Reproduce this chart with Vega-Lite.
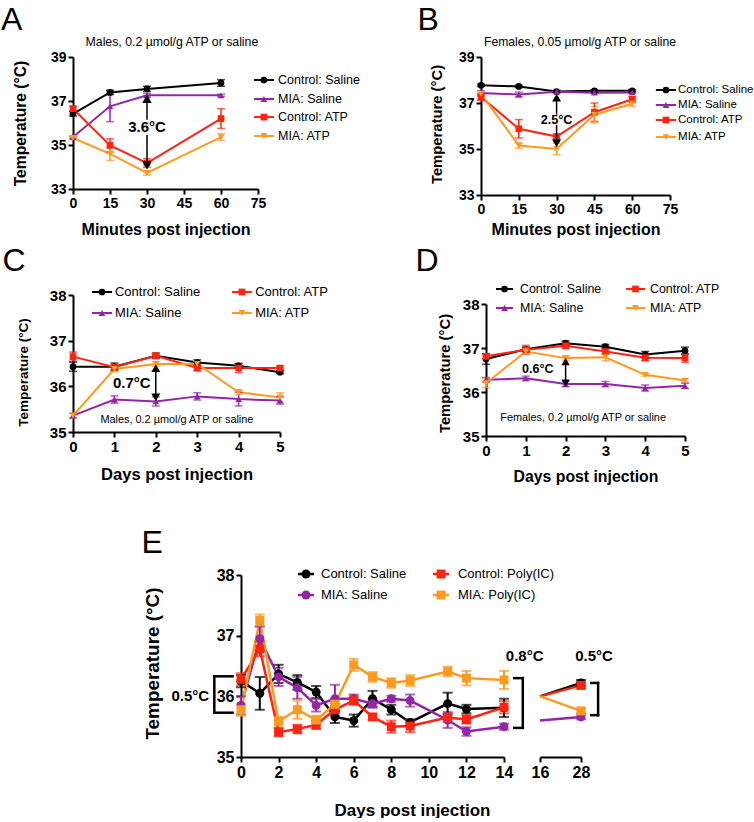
{
  "$schema": "https://vega.github.io/schema/vega-lite/v6.json",
  "padding": {"left": 0, "top": 4, "right": 0, "bottom": 0},
  "config": {
    "font": "Liberation Sans",
    "view": {"stroke": null},
    "axis": {"domainColor": "#000000", "domainWidth": 2, "tickColor": "#000000", "tickWidth": 2, "tickSize": 5, "labelColor": "#000000", "labelFontWeight": "bold", "labelFontSize": 14, "labelPadding": 2, "labelFlush": false, "labelOverlap": false, "titleColor": "#000000", "titleFontWeight": "bold", "titleFontSize": 16, "grid": false},
    "text": {"color": "#000000", "font": "Liberation Sans"}
  },
  "datasets": {
    "A": [
      {"s": "Control: Saline", "x": 0, "t": 36.42, "e": 0.1},
      {"s": "Control: Saline", "x": 15, "t": 37.39, "e": 0.1},
      {"s": "Control: Saline", "x": 30, "t": 37.55, "e": 0.12},
      {"s": "Control: Saline", "x": 60, "t": 37.82, "e": 0.15},
      {"s": "MIA: Saline", "x": 0, "t": 35.36, "e": 0.05},
      {"s": "MIA: Saline", "x": 15, "t": 36.76, "e": 0.7},
      {"s": "MIA: Saline", "x": 30, "t": 37.26, "e": 0.08},
      {"s": "MIA: Saline", "x": 60, "t": 37.26, "e": 0.05},
      {"s": "Control: ATP", "x": 0, "t": 36.65, "e": 0.1},
      {"s": "Control: ATP", "x": 15, "t": 34.98, "e": 0.3},
      {"s": "Control: ATP", "x": 30, "t": 34.18, "e": 0.2},
      {"s": "Control: ATP", "x": 60, "t": 36.2, "e": 0.45},
      {"s": "MIA: ATP", "x": 0, "t": 35.32, "e": 0.05},
      {"s": "MIA: ATP", "x": 15, "t": 34.6, "e": 0.3},
      {"s": "MIA: ATP", "x": 30, "t": 33.73, "e": 0.1},
      {"s": "MIA: ATP", "x": 60, "t": 35.36, "e": 0.15}
    ],
    "B": [
      {"s": "Control: Saline", "x": 0, "t": 37.77, "e": 0.05},
      {"s": "Control: Saline", "x": 15, "t": 37.72, "e": 0.05},
      {"s": "Control: Saline", "x": 30, "t": 37.5, "e": 0.05},
      {"s": "Control: Saline", "x": 45, "t": 37.53, "e": 0.05},
      {"s": "Control: Saline", "x": 60, "t": 37.53, "e": 0.05},
      {"s": "MIA: Saline", "x": 0, "t": 37.43, "e": 0.1},
      {"s": "MIA: Saline", "x": 15, "t": 37.37, "e": 0.1},
      {"s": "MIA: Saline", "x": 30, "t": 37.49, "e": 0.05},
      {"s": "MIA: Saline", "x": 45, "t": 37.45, "e": 0.05},
      {"s": "MIA: Saline", "x": 60, "t": 37.46, "e": 0.05},
      {"s": "Control: ATP", "x": 0, "t": 37.26, "e": 0.15},
      {"s": "Control: ATP", "x": 15, "t": 35.88, "e": 0.4},
      {"s": "Control: ATP", "x": 30, "t": 35.54, "e": 0.1},
      {"s": "Control: ATP", "x": 45, "t": 36.6, "e": 0.4},
      {"s": "Control: ATP", "x": 60, "t": 37.16, "e": 0.12},
      {"s": "MIA: ATP", "x": 0, "t": 37.4, "e": 0.1},
      {"s": "MIA: ATP", "x": 15, "t": 35.15, "e": 0.12},
      {"s": "MIA: ATP", "x": 30, "t": 35.0, "e": 0.25},
      {"s": "MIA: ATP", "x": 45, "t": 36.49, "e": 0.35},
      {"s": "MIA: ATP", "x": 60, "t": 36.97, "e": 0.12}
    ],
    "C": [
      {"s": "Control: Saline", "x": 0, "t": 36.43, "e": 0.1},
      {"s": "Control: Saline", "x": 1, "t": 36.43, "e": 0.08},
      {"s": "Control: Saline", "x": 2, "t": 36.67, "e": 0.05},
      {"s": "Control: Saline", "x": 3, "t": 36.52, "e": 0.06},
      {"s": "Control: Saline", "x": 4, "t": 36.45, "e": 0.05},
      {"s": "Control: Saline", "x": 5, "t": 36.31, "e": 0.03},
      {"s": "MIA: Saline", "x": 0, "t": 35.36, "e": 0.05},
      {"s": "MIA: Saline", "x": 1, "t": 35.71, "e": 0.08},
      {"s": "MIA: Saline", "x": 2, "t": 35.67, "e": 0.1},
      {"s": "MIA: Saline", "x": 3, "t": 35.78, "e": 0.08},
      {"s": "MIA: Saline", "x": 4, "t": 35.72, "e": 0.15},
      {"s": "MIA: Saline", "x": 5, "t": 35.69, "e": 0.08},
      {"s": "Control: ATP", "x": 0, "t": 36.65, "e": 0.1},
      {"s": "Control: ATP", "x": 1, "t": 36.42, "e": 0.05},
      {"s": "Control: ATP", "x": 2, "t": 36.67, "e": 0.06},
      {"s": "Control: ATP", "x": 3, "t": 36.4, "e": 0.06},
      {"s": "Control: ATP", "x": 4, "t": 36.4, "e": 0.1},
      {"s": "Control: ATP", "x": 5, "t": 36.4, "e": 0.05},
      {"s": "MIA: ATP", "x": 0, "t": 35.36, "e": 0.05},
      {"s": "MIA: ATP", "x": 1, "t": 36.38, "e": 0.06},
      {"s": "MIA: ATP", "x": 2, "t": 36.49, "e": 0.05},
      {"s": "MIA: ATP", "x": 3, "t": 36.49, "e": 0.06},
      {"s": "MIA: ATP", "x": 4, "t": 35.87, "e": 0.05},
      {"s": "MIA: ATP", "x": 5, "t": 35.76, "e": 0.1}
    ],
    "D": [
      {"s": "Control: Saline", "x": 0, "t": 36.75, "e": 0.12},
      {"s": "Control: Saline", "x": 1, "t": 36.97, "e": 0.05},
      {"s": "Control: Saline", "x": 2, "t": 37.11, "e": 0.05},
      {"s": "Control: Saline", "x": 3, "t": 37.03, "e": 0.05},
      {"s": "Control: Saline", "x": 4, "t": 36.85, "e": 0.07},
      {"s": "Control: Saline", "x": 5, "t": 36.94, "e": 0.08},
      {"s": "MIA: Saline", "x": 0, "t": 36.28, "e": 0.05},
      {"s": "MIA: Saline", "x": 1, "t": 36.31, "e": 0.05},
      {"s": "MIA: Saline", "x": 2, "t": 36.18, "e": 0.06},
      {"s": "MIA: Saline", "x": 3, "t": 36.18, "e": 0.06},
      {"s": "MIA: Saline", "x": 4, "t": 36.09, "e": 0.07},
      {"s": "MIA: Saline", "x": 5, "t": 36.14, "e": 0.06},
      {"s": "Control: ATP", "x": 0, "t": 36.81, "e": 0.05},
      {"s": "Control: ATP", "x": 1, "t": 36.96, "e": 0.1},
      {"s": "Control: ATP", "x": 2, "t": 37.05, "e": 0.06},
      {"s": "Control: ATP", "x": 3, "t": 36.92, "e": 0.06},
      {"s": "Control: ATP", "x": 4, "t": 36.78, "e": 0.07},
      {"s": "Control: ATP", "x": 5, "t": 36.77, "e": 0.1},
      {"s": "MIA: ATP", "x": 0, "t": 36.2, "e": 0.1},
      {"s": "MIA: ATP", "x": 1, "t": 36.92, "e": 0.05},
      {"s": "MIA: ATP", "x": 2, "t": 36.77, "e": 0.05},
      {"s": "MIA: ATP", "x": 3, "t": 36.79, "e": 0.08},
      {"s": "MIA: ATP", "x": 4, "t": 36.39, "e": 0.03},
      {"s": "MIA: ATP", "x": 5, "t": 36.26, "e": 0.03}
    ],
    "E1": [
      {"s": "Control: Saline", "x": 0, "t": 36.25, "e": 0.1},
      {"s": "Control: Saline", "x": 1, "t": 36.05, "e": 0.27},
      {"s": "Control: Saline", "x": 2, "t": 36.37, "e": 0.15},
      {"s": "Control: Saline", "x": 3, "t": 36.23, "e": 0.12},
      {"s": "Control: Saline", "x": 4, "t": 36.07, "e": 0.1},
      {"s": "Control: Saline", "x": 5, "t": 35.66, "e": 0.1},
      {"s": "Control: Saline", "x": 6, "t": 35.6, "e": 0.1},
      {"s": "Control: Saline", "x": 7, "t": 35.96, "e": 0.13},
      {"s": "Control: Saline", "x": 8, "t": 35.78, "e": 0.08},
      {"s": "Control: Saline", "x": 9, "t": 35.57, "e": 0.05},
      {"s": "Control: Saline", "x": 11, "t": 35.88, "e": 0.18},
      {"s": "Control: Saline", "x": 12, "t": 35.79, "e": 0.07},
      {"s": "Control: Saline", "x": 14, "t": 35.81, "e": 0.15},
      {"s": "MIA: Saline", "x": 0, "t": 35.85, "e": 0.15},
      {"s": "MIA: Saline", "x": 1, "t": 36.95, "e": 0.2},
      {"s": "MIA: Saline", "x": 2, "t": 36.32, "e": 0.15},
      {"s": "MIA: Saline", "x": 3, "t": 36.14, "e": 0.18},
      {"s": "MIA: Saline", "x": 4, "t": 35.85, "e": 0.1},
      {"s": "MIA: Saline", "x": 5, "t": 35.96, "e": 0.23},
      {"s": "MIA: Saline", "x": 6, "t": 35.96, "e": 0.07},
      {"s": "MIA: Saline", "x": 7, "t": 35.88, "e": 0.07},
      {"s": "MIA: Saline", "x": 8, "t": 35.96, "e": 0.05},
      {"s": "MIA: Saline", "x": 9, "t": 35.93, "e": 0.1},
      {"s": "MIA: Saline", "x": 11, "t": 35.61, "e": 0.13},
      {"s": "MIA: Saline", "x": 12, "t": 35.42, "e": 0.07},
      {"s": "MIA: Saline", "x": 14, "t": 35.5, "e": 0.05},
      {"s": "Control: Poly(IC)", "x": 0, "t": 36.28, "e": 0.1},
      {"s": "Control: Poly(IC)", "x": 1, "t": 36.78, "e": 0.12},
      {"s": "Control: Poly(IC)", "x": 2, "t": 35.41, "e": 0.07},
      {"s": "Control: Poly(IC)", "x": 3, "t": 35.46, "e": 0.07},
      {"s": "Control: Poly(IC)", "x": 4, "t": 35.53, "e": 0.07},
      {"s": "Control: Poly(IC)", "x": 5, "t": 35.78, "e": 0.1},
      {"s": "Control: Poly(IC)", "x": 6, "t": 35.93, "e": 0.07},
      {"s": "Control: Poly(IC)", "x": 7, "t": 35.66, "e": 0.05},
      {"s": "Control: Poly(IC)", "x": 8, "t": 35.5, "e": 0.1},
      {"s": "Control: Poly(IC)", "x": 9, "t": 35.51, "e": 0.1},
      {"s": "Control: Poly(IC)", "x": 11, "t": 35.65, "e": 0.07},
      {"s": "Control: Poly(IC)", "x": 12, "t": 35.62, "e": 0.07},
      {"s": "Control: Poly(IC)", "x": 14, "t": 35.82, "e": 0.1},
      {"s": "MIA: Poly(IC)", "x": 0, "t": 35.78, "e": 0.1},
      {"s": "MIA: Poly(IC)", "x": 1, "t": 37.25, "e": 0.1},
      {"s": "MIA: Poly(IC)", "x": 2, "t": 35.59, "e": 0.07},
      {"s": "MIA: Poly(IC)", "x": 3, "t": 35.78, "e": 0.15},
      {"s": "MIA: Poly(IC)", "x": 4, "t": 35.61, "e": 0.07},
      {"s": "MIA: Poly(IC)", "x": 5, "t": 35.87, "e": 0.1},
      {"s": "MIA: Poly(IC)", "x": 6, "t": 36.52, "e": 0.1},
      {"s": "MIA: Poly(IC)", "x": 7, "t": 36.32, "e": 0.08},
      {"s": "MIA: Poly(IC)", "x": 8, "t": 36.22, "e": 0.08},
      {"s": "MIA: Poly(IC)", "x": 9, "t": 36.26, "e": 0.09},
      {"s": "MIA: Poly(IC)", "x": 11, "t": 36.41, "e": 0.08},
      {"s": "MIA: Poly(IC)", "x": 12, "t": 36.3, "e": 0.12},
      {"s": "MIA: Poly(IC)", "x": 14, "t": 36.27, "e": 0.15}
    ],
    "E2": [
      {"s": "Control: Saline", "x": 16, "t": 36.0, "e": 0},
      {"s": "Control: Saline", "x": 28, "t": 36.22, "e": 0.05},
      {"s": "MIA: Saline", "x": 16, "t": 35.6, "e": 0},
      {"s": "MIA: Saline", "x": 28, "t": 35.66, "e": 0.04},
      {"s": "Control: Poly(IC)", "x": 16, "t": 36.0, "e": 0},
      {"s": "Control: Poly(IC)", "x": 28, "t": 36.18, "e": 0.05},
      {"s": "MIA: Poly(IC)", "x": 16, "t": 36.0, "e": 0},
      {"s": "MIA: Poly(IC)", "x": 28, "t": 35.76, "e": 0.04}
    ]
  },
  "resolve": {"scale": {"color": "independent", "shape": "independent"}},
  "spacing": 42,
  "vconcat": [
    {
      "spacing": 8,
      "resolve": {"scale": {"color": "independent", "shape": "independent"}},
      "vconcat": [
        {
          "hconcat": [
            {
              "width": 185, "height": 132,
              "data": {"values": [{}]},
              "layer": [
                {
                  "data": {"name": "A"},
                  "encoding": {
                    "x": {"field": "x", "type": "quantitative", "scale": {"domain": [0, 75], "nice": false}, "axis": {"values": [0, 15, 30, 45, 60, 75], "tickCount": 20, "format": "d", "labelOverlap": false, "title": "Minutes post injection", "titleX": 92.5, "titleY": 32, "titleFontSize": 16, "labelFontSize": 14}},
                    "y": {"field": "t", "type": "quantitative", "scale": {"domain": [33, 39], "nice": false, "zero": false}, "axis": {"values": [33, 35, 37, 39], "tickCount": 20, "format": "d", "labelOverlap": false, "title": "Temperature (°C)", "titleX": -45, "titleY": 66, "titleFontSize": 15.6, "labelFontSize": 14}},
                    "color": {"field": "s", "type": "nominal", "scale": {"domain": ["Control: Saline", "MIA: Saline", "Control: ATP", "MIA: ATP"], "range": ["#000000", "#9226a6", "#ff2412", "#ff9a20"]}, "legend": null}
                  },
                  "layer": [
                    {"mark": {"type": "line", "strokeWidth": 2}},
                    {"mark": {"type": "errorbar", "thickness": 1.5, "ticks": {"size": 8, "thickness": 1.5}}, "encoding": {"yError": {"field": "e"}}},
                    {"mark": {"type": "point", "filled": true, "size": 45, "opacity": 1}, "encoding": {"shape": {"field": "s", "type": "nominal", "scale": {"domain": ["Control: Saline", "MIA: Saline", "Control: ATP", "MIA: ATP"], "range": ["circle", "triangle-up", "square", "triangle-down"]}, "legend": null}}}
                  ]
                },
                {"mark": {"type": "rule", "color": "#000000", "strokeWidth": 2}, "encoding": {"x": {"datum": 73.4}, "x2": {"datum": 81.5}, "y": {"datum": 37.955}}},
                {"mark": {"type": "point", "shape": "circle", "filled": true, "color": "#000000", "size": 45, "opacity": 1}, "encoding": {"x": {"datum": 77.4}, "y": {"datum": 37.955}}},
                {"mark": {"type": "text", "text": "Control: Saline", "fontSize": 12.5, "align": "left", "baseline": "middle"}, "encoding": {"x": {"datum": 83.1}, "y": {"datum": 37.955}}},
                {"mark": {"type": "rule", "color": "#9226a6", "strokeWidth": 2}, "encoding": {"x": {"datum": 73.4}, "x2": {"datum": 81.5}, "y": {"datum": 37.09}}},
                {"mark": {"type": "point", "shape": "triangle-up", "filled": true, "color": "#9226a6", "size": 45, "opacity": 1}, "encoding": {"x": {"datum": 77.4}, "y": {"datum": 37.09}}},
                {"mark": {"type": "text", "text": "MIA: Saline", "fontSize": 12.5, "align": "left", "baseline": "middle"}, "encoding": {"x": {"datum": 83.1}, "y": {"datum": 37.09}}},
                {"mark": {"type": "rule", "color": "#ff2412", "strokeWidth": 2}, "encoding": {"x": {"datum": 73.4}, "x2": {"datum": 81.5}, "y": {"datum": 36.27}}},
                {"mark": {"type": "point", "shape": "square", "filled": true, "color": "#ff2412", "size": 45, "opacity": 1}, "encoding": {"x": {"datum": 77.4}, "y": {"datum": 36.27}}},
                {"mark": {"type": "text", "text": "Control: ATP", "fontSize": 12.5, "align": "left", "baseline": "middle"}, "encoding": {"x": {"datum": 83.1}, "y": {"datum": 36.27}}},
                {"mark": {"type": "rule", "color": "#ff9a20", "strokeWidth": 2}, "encoding": {"x": {"datum": 73.4}, "x2": {"datum": 81.5}, "y": {"datum": 35.41}}},
                {"mark": {"type": "point", "shape": "triangle-down", "filled": true, "color": "#ff9a20", "size": 45, "opacity": 1}, "encoding": {"x": {"datum": 77.4}, "y": {"datum": 35.41}}},
                {"mark": {"type": "text", "text": "MIA: ATP", "fontSize": 12.5, "align": "left", "baseline": "middle"}, "encoding": {"x": {"datum": 83.1}, "y": {"datum": 35.41}}},
                {"mark": {"type": "rule", "color": "#000000", "strokeWidth": 1.5}, "encoding": {"x": {"datum": 30}, "y": {"datum": 37.1}, "y2": {"datum": 36.15}}},
                {"mark": {"type": "rule", "color": "#000000", "strokeWidth": 1.5}, "encoding": {"x": {"datum": 30}, "y": {"datum": 35.45}, "y2": {"datum": 34.15}}},
                {"mark": {"type": "point", "shape": "triangle-up", "filled": true, "color": "#000000", "size": 90, "opacity": 1}, "encoding": {"x": {"datum": 30}, "y": {"datum": 37.1}}},
                {"mark": {"type": "point", "shape": "triangle-down", "filled": true, "color": "#000000", "size": 90, "opacity": 1}, "encoding": {"x": {"datum": 30}, "y": {"datum": 34.07}}},
                {"mark": {"type": "text", "text": "3.6°C", "fontSize": 15, "fontWeight": "bold", "align": "center", "baseline": "middle"}, "encoding": {"x": {"datum": 30}, "y": {"datum": 35.8}}},
                {"mark": {"type": "text", "text": "Males, 0.2 µmol/g ATP or saline", "fontSize": 12.3, "align": "center", "baseline": "middle"}, "encoding": {"x": {"datum": 40.1}, "y": {"datum": 39.67}}},
                {"mark": {"type": "text", "text": "A", "fontSize": 32, "align": "left", "baseline": "alphabetic"}, "encoding": {"x": {"datum": -29.19}, "y": {"datum": 40.227}}}
              ]
            },
            {
              "width": 189, "height": 138,
              "data": {"values": [{}]},
              "layer": [
                {
                  "data": {"name": "B"},
                  "encoding": {
                    "x": {"field": "x", "type": "quantitative", "scale": {"domain": [0, 75], "nice": false}, "axis": {"values": [0, 15, 30, 45, 60, 75], "tickCount": 20, "format": "d", "labelOverlap": false, "title": "Minutes post injection", "titleX": 94.5, "titleY": 26, "titleFontSize": 16, "labelFontSize": 14}},
                    "y": {"field": "t", "type": "quantitative", "scale": {"domain": [33, 39], "nice": false, "zero": false}, "axis": {"values": [33, 35, 37, 39], "tickCount": 20, "format": "d", "labelOverlap": false, "title": "Temperature (°C)", "titleX": -37, "titleY": 67, "titleFontSize": 14.8, "labelFontSize": 14}},
                    "color": {"field": "s", "type": "nominal", "scale": {"domain": ["Control: Saline", "MIA: Saline", "Control: ATP", "MIA: ATP"], "range": ["#000000", "#9226a6", "#ff2412", "#ff9a20"]}, "legend": null}
                  },
                  "layer": [
                    {"mark": {"type": "line", "strokeWidth": 2}},
                    {"mark": {"type": "errorbar", "thickness": 1.5, "ticks": {"size": 8, "thickness": 1.5}}, "encoding": {"yError": {"field": "e"}}},
                    {"mark": {"type": "point", "filled": true, "size": 45, "opacity": 1}, "encoding": {"shape": {"field": "s", "type": "nominal", "scale": {"domain": ["Control: Saline", "MIA: Saline", "Control: ATP", "MIA: ATP"], "range": ["circle", "triangle-up", "square", "triangle-down"]}, "legend": null}}}
                  ]
                },
                {"mark": {"type": "rule", "color": "#000000", "strokeWidth": 2}, "encoding": {"x": {"datum": 69.4}, "x2": {"datum": 77.4}, "y": {"datum": 37.565}}},
                {"mark": {"type": "point", "shape": "circle", "filled": true, "color": "#000000", "size": 45, "opacity": 1}, "encoding": {"x": {"datum": 73.4}, "y": {"datum": 37.565}}},
                {"mark": {"type": "text", "text": "Control: Saline", "fontSize": 11.5, "align": "left", "baseline": "middle"}, "encoding": {"x": {"datum": 78.2}, "y": {"datum": 37.565}}},
                {"mark": {"type": "rule", "color": "#9226a6", "strokeWidth": 2}, "encoding": {"x": {"datum": 69.4}, "x2": {"datum": 77.4}, "y": {"datum": 36.913}}},
                {"mark": {"type": "point", "shape": "triangle-up", "filled": true, "color": "#9226a6", "size": 45, "opacity": 1}, "encoding": {"x": {"datum": 73.4}, "y": {"datum": 36.913}}},
                {"mark": {"type": "text", "text": "MIA: Saline", "fontSize": 11.5, "align": "left", "baseline": "middle"}, "encoding": {"x": {"datum": 78.2}, "y": {"datum": 36.913}}},
                {"mark": {"type": "rule", "color": "#ff2412", "strokeWidth": 2}, "encoding": {"x": {"datum": 69.4}, "x2": {"datum": 77.4}, "y": {"datum": 36.26}}},
                {"mark": {"type": "point", "shape": "square", "filled": true, "color": "#ff2412", "size": 45, "opacity": 1}, "encoding": {"x": {"datum": 73.4}, "y": {"datum": 36.26}}},
                {"mark": {"type": "text", "text": "Control: ATP", "fontSize": 11.5, "align": "left", "baseline": "middle"}, "encoding": {"x": {"datum": 78.2}, "y": {"datum": 36.26}}},
                {"mark": {"type": "rule", "color": "#ff9a20", "strokeWidth": 2}, "encoding": {"x": {"datum": 69.4}, "x2": {"datum": 77.4}, "y": {"datum": 35.52}}},
                {"mark": {"type": "point", "shape": "triangle-down", "filled": true, "color": "#ff9a20", "size": 45, "opacity": 1}, "encoding": {"x": {"datum": 73.4}, "y": {"datum": 35.52}}},
                {"mark": {"type": "text", "text": "MIA: ATP", "fontSize": 11.5, "align": "left", "baseline": "middle"}, "encoding": {"x": {"datum": 78.2}, "y": {"datum": 35.52}}},
                {"mark": {"type": "rule", "color": "#000000", "strokeWidth": 1.5}, "encoding": {"x": {"datum": 30}, "y": {"datum": 37.1}, "y2": {"datum": 36.5}}},
                {"mark": {"type": "rule", "color": "#000000", "strokeWidth": 1.5}, "encoding": {"x": {"datum": 30}, "y": {"datum": 36.05}, "y2": {"datum": 35.4}}},
                {"mark": {"type": "point", "shape": "triangle-up", "filled": true, "color": "#000000", "size": 80, "opacity": 1}, "encoding": {"x": {"datum": 30}, "y": {"datum": 37.23}}},
                {"mark": {"type": "point", "shape": "triangle-down", "filled": true, "color": "#000000", "size": 80, "opacity": 1}, "encoding": {"x": {"datum": 30}, "y": {"datum": 35.25}}},
                {"mark": {"type": "text", "text": "2.5°C", "fontSize": 12.7, "fontWeight": "bold", "align": "center", "baseline": "middle"}, "encoding": {"x": {"datum": 30}, "y": {"datum": 36.28}}},
                {"mark": {"type": "text", "text": "Females, 0.05 µmol/g ATP or saline", "fontSize": 12.2, "align": "center", "baseline": "middle"}, "encoding": {"x": {"datum": 39.3}, "y": {"datum": 39.64}}},
                {"mark": {"type": "text", "text": "B", "fontSize": 32, "align": "left", "baseline": "alphabetic"}, "encoding": {"x": {"datum": -25.2}, "y": {"datum": 40.17}}}
              ]
            }
          ],
          "spacing": 223,
          "bounds": "flush",
          "resolve": {"scale": {"color": "independent", "shape": "independent"}}
        },
        {
          "hconcat": [
            {
              "width": 207, "height": 137,
              "data": {"values": [{}]},
              "layer": [
                {
                  "data": {"name": "C"},
                  "encoding": {
                    "x": {"field": "x", "type": "quantitative", "scale": {"domain": [0, 5], "nice": false}, "axis": {"values": [0, 1, 2, 3, 4, 5], "tickCount": 20, "format": "d", "labelOverlap": false, "title": "Days post injection", "titleX": 103.5, "titleY": 34, "titleFontSize": 16.6, "labelFontSize": 15}},
                    "y": {"field": "t", "type": "quantitative", "scale": {"domain": [35, 38], "nice": false, "zero": false}, "axis": {"values": [35, 36, 37, 38], "tickCount": 20, "format": "d", "labelOverlap": false, "title": "Temperature (°C)", "titleX": -43, "titleY": 77, "titleFontSize": 13.5, "labelFontSize": 15}},
                    "color": {"field": "s", "type": "nominal", "scale": {"domain": ["Control: Saline", "Control: ATP", "MIA: Saline", "MIA: ATP"], "range": ["#000000", "#ff2412", "#9226a6", "#ff9a20"]}, "legend": null}
                  },
                  "layer": [
                    {"mark": {"type": "line", "strokeWidth": 2}},
                    {"mark": {"type": "errorbar", "thickness": 1.5, "ticks": {"size": 8, "thickness": 1.5}}, "encoding": {"yError": {"field": "e"}}},
                    {"mark": {"type": "point", "filled": true, "size": 45, "opacity": 1}, "encoding": {"shape": {"field": "s", "type": "nominal", "scale": {"domain": ["Control: Saline", "Control: ATP", "MIA: Saline", "MIA: ATP"], "range": ["circle", "square", "triangle-up", "triangle-down"]}, "legend": null}}}
                  ]
                },
                {"mark": {"type": "rule", "color": "#000000", "strokeWidth": 2}, "encoding": {"x": {"datum": 0.459}, "x2": {"datum": 0.942}, "y": {"datum": 38.066}}},
                {"mark": {"type": "point", "shape": "circle", "filled": true, "color": "#000000", "size": 45, "opacity": 1}, "encoding": {"x": {"datum": 0.70}, "y": {"datum": 38.066}}},
                {"mark": {"type": "text", "text": "Control: Saline", "fontSize": 13, "align": "left", "baseline": "middle"}, "encoding": {"x": {"datum": 1.014}, "y": {"datum": 38.066}}},
                {"mark": {"type": "rule", "color": "#ff2412", "strokeWidth": 2}, "encoding": {"x": {"datum": 3.84}, "x2": {"datum": 4.32}, "y": {"datum": 38.066}}},
                {"mark": {"type": "point", "shape": "square", "filled": true, "color": "#ff2412", "size": 45, "opacity": 1}, "encoding": {"x": {"datum": 4.08}, "y": {"datum": 38.066}}},
                {"mark": {"type": "text", "text": "Control: ATP", "fontSize": 13, "align": "left", "baseline": "middle"}, "encoding": {"x": {"datum": 4.40}, "y": {"datum": 38.066}}},
                {"mark": {"type": "rule", "color": "#9226a6", "strokeWidth": 2}, "encoding": {"x": {"datum": 0.459}, "x2": {"datum": 0.942}, "y": {"datum": 37.606}}},
                {"mark": {"type": "point", "shape": "triangle-up", "filled": true, "color": "#9226a6", "size": 45, "opacity": 1}, "encoding": {"x": {"datum": 0.70}, "y": {"datum": 37.606}}},
                {"mark": {"type": "text", "text": "MIA: Saline", "fontSize": 13, "align": "left", "baseline": "middle"}, "encoding": {"x": {"datum": 1.014}, "y": {"datum": 37.606}}},
                {"mark": {"type": "rule", "color": "#ff9a20", "strokeWidth": 2}, "encoding": {"x": {"datum": 3.84}, "x2": {"datum": 4.32}, "y": {"datum": 37.606}}},
                {"mark": {"type": "point", "shape": "triangle-down", "filled": true, "color": "#ff9a20", "size": 45, "opacity": 1}, "encoding": {"x": {"datum": 4.08}, "y": {"datum": 37.606}}},
                {"mark": {"type": "text", "text": "MIA: ATP", "fontSize": 13, "align": "left", "baseline": "middle"}, "encoding": {"x": {"datum": 4.40}, "y": {"datum": 37.606}}},
                {"mark": {"type": "rule", "color": "#000000", "strokeWidth": 1.5}, "encoding": {"x": {"datum": 2}, "y": {"datum": 36.4}, "y2": {"datum": 35.76}}},
                {"mark": {"type": "point", "shape": "triangle-up", "filled": true, "color": "#000000", "size": 80, "opacity": 1}, "encoding": {"x": {"datum": 2}, "y": {"datum": 36.4}}},
                {"mark": {"type": "point", "shape": "triangle-down", "filled": true, "color": "#000000", "size": 80, "opacity": 1}, "encoding": {"x": {"datum": 2}, "y": {"datum": 35.76}}},
                {"mark": {"type": "text", "text": "0.7°C", "fontSize": 15, "fontWeight": "bold", "align": "center", "baseline": "middle"}, "encoding": {"x": {"datum": 1.42}, "y": {"datum": 36.07}}},
                {"mark": {"type": "text", "text": "Males, 0.2 µmol/g ATP or saline", "fontSize": 10.9, "align": "center", "baseline": "middle"}, "encoding": {"x": {"datum": 2.51}, "y": {"datum": 35.26}}},
                {"mark": {"type": "text", "text": "C", "fontSize": 32, "align": "left", "baseline": "alphabetic"}, "encoding": {"x": {"datum": -1.7}, "y": {"datum": 38.525}}}
              ]
            },
            {
              "vconcat": [
                {"width": 1, "height": 1, "data": {"values": [{}]}, "mark": {"type": "rule", "color": "#ffffff", "strokeWidth": 1}, "encoding": {"x": {"datum": 0, "type": "quantitative", "scale": {"domain": [0, 1]}, "axis": null}}},
                {
                  "width": 199, "height": 132,
                  "data": {"values": [{}]},
                  "layer": [
                    {
                      "data": {"name": "D"},
                      "encoding": {
                        "x": {"field": "x", "type": "quantitative", "scale": {"domain": [0, 5], "nice": false}, "axis": {"values": [0, 1, 2, 3, 4, 5], "tickCount": 20, "format": "d", "labelOverlap": false, "title": "Days post injection", "titleX": 99.5, "titleY": 33, "titleFontSize": 15.8, "labelFontSize": 15}},
                        "y": {"field": "t", "type": "quantitative", "scale": {"domain": [35, 38], "nice": false, "zero": false}, "axis": {"values": [35, 36, 37, 38], "tickCount": 20, "format": "d", "labelOverlap": false, "title": "Temperature (°C)", "titleX": -34, "titleY": 69, "titleFontSize": 14.8, "labelFontSize": 15}},
                        "color": {"field": "s", "type": "nominal", "scale": {"domain": ["Control: Saline", "Control: ATP", "MIA: Saline", "MIA: ATP"], "range": ["#000000", "#ff2412", "#9226a6", "#ff9a20"]}, "legend": null}
                      },
                      "layer": [
                        {"mark": {"type": "line", "strokeWidth": 2}},
                        {"mark": {"type": "errorbar", "thickness": 1.5, "ticks": {"size": 8, "thickness": 1.5}}, "encoding": {"yError": {"field": "e"}}},
                        {"mark": {"type": "point", "filled": true, "size": 45, "opacity": 1}, "encoding": {"shape": {"field": "s", "type": "nominal", "scale": {"domain": ["Control: Saline", "Control: ATP", "MIA: Saline", "MIA: ATP"], "range": ["circle", "square", "triangle-up", "triangle-down"]}, "legend": null}}}
                      ]
                    },
                    {"mark": {"type": "rule", "color": "#000000", "strokeWidth": 2}, "encoding": {"x": {"datum": 0.251}, "x2": {"datum": 0.678}, "y": {"datum": 38.341}}},
                    {"mark": {"type": "point", "shape": "circle", "filled": true, "color": "#000000", "size": 45, "opacity": 1}, "encoding": {"x": {"datum": 0.465}, "y": {"datum": 38.341}}},
                    {"mark": {"type": "text", "text": "Control: Saline", "fontSize": 12.4, "align": "left", "baseline": "middle"}, "encoding": {"x": {"datum": 0.854}, "y": {"datum": 38.341}}},
                    {"mark": {"type": "rule", "color": "#ff2412", "strokeWidth": 2}, "encoding": {"x": {"datum": 3.518}, "x2": {"datum": 3.995}, "y": {"datum": 38.341}}},
                    {"mark": {"type": "point", "shape": "square", "filled": true, "color": "#ff2412", "size": 45, "opacity": 1}, "encoding": {"x": {"datum": 3.756}, "y": {"datum": 38.341}}},
                    {"mark": {"type": "text", "text": "Control: ATP", "fontSize": 12.4, "align": "left", "baseline": "middle"}, "encoding": {"x": {"datum": 4.12}, "y": {"datum": 38.341}}},
                    {"mark": {"type": "rule", "color": "#9226a6", "strokeWidth": 2}, "encoding": {"x": {"datum": 0.251}, "x2": {"datum": 0.678}, "y": {"datum": 37.909}}},
                    {"mark": {"type": "point", "shape": "triangle-up", "filled": true, "color": "#9226a6", "size": 45, "opacity": 1}, "encoding": {"x": {"datum": 0.465}, "y": {"datum": 37.909}}},
                    {"mark": {"type": "text", "text": "MIA: Saline", "fontSize": 12.4, "align": "left", "baseline": "middle"}, "encoding": {"x": {"datum": 0.854}, "y": {"datum": 37.909}}},
                    {"mark": {"type": "rule", "color": "#ff9a20", "strokeWidth": 2}, "encoding": {"x": {"datum": 3.518}, "x2": {"datum": 3.995}, "y": {"datum": 37.909}}},
                    {"mark": {"type": "point", "shape": "triangle-down", "filled": true, "color": "#ff9a20", "size": 45, "opacity": 1}, "encoding": {"x": {"datum": 3.756}, "y": {"datum": 37.909}}},
                    {"mark": {"type": "text", "text": "MIA: ATP", "fontSize": 12.4, "align": "left", "baseline": "middle"}, "encoding": {"x": {"datum": 4.12}, "y": {"datum": 37.909}}},
                    {"mark": {"type": "rule", "color": "#000000", "strokeWidth": 1.5}, "encoding": {"x": {"datum": 2}, "y": {"datum": 36.69}, "y2": {"datum": 36.2}}},
                    {"mark": {"type": "point", "shape": "triangle-up", "filled": true, "color": "#000000", "size": 70, "opacity": 1}, "encoding": {"x": {"datum": 2}, "y": {"datum": 36.69}}},
                    {"mark": {"type": "point", "shape": "triangle-down", "filled": true, "color": "#000000", "size": 70, "opacity": 1}, "encoding": {"x": {"datum": 2}, "y": {"datum": 36.2}}},
                    {"mark": {"type": "text", "text": "0.6°C", "fontSize": 12.5, "fontWeight": "bold", "align": "center", "baseline": "middle"}, "encoding": {"x": {"datum": 1.3}, "y": {"datum": 36.53}}},
                    {"mark": {"type": "text", "text": "Females, 0.2 µmol/g ATP or saline", "fontSize": 10.9, "align": "center", "baseline": "middle"}, "encoding": {"x": {"datum": 2.44}, "y": {"datum": 35.4}}},
                    {"mark": {"type": "text", "text": "D", "fontSize": 32, "align": "left", "baseline": "alphabetic"}, "encoding": {"x": {"datum": -1.77}, "y": {"datum": 38.75}}}
                  ]
                }
              ],
              "spacing": 8,
              "bounds": "flush",
              "resolve": {"scale": {"color": "independent", "shape": "independent"}}
            }
          ],
          "spacing": 206,
          "bounds": "flush",
          "resolve": {"scale": {"color": "independent", "shape": "independent"}}
        }
      ]
    },
    {
      "hconcat": [
        {"width": 132, "height": 1, "data": {"values": [{}]}, "mark": {"type": "rule", "color": "#ffffff", "strokeWidth": 1}, "encoding": {"x": {"datum": 0, "type": "quantitative", "scale": {"domain": [0, 1]}, "axis": null}}},
        {
          "width": 263, "height": 182,
          "data": {"values": [{}]},
          "layer": [
            {
              "data": {"name": "E1"},
              "encoding": {
                "x": {"field": "x", "type": "quantitative", "scale": {"domain": [0, 14], "nice": false}, "axis": {"values": [0, 2, 4, 6, 8, 10, 12, 14], "tickCount": 20, "format": "d", "labelOverlap": false, "title": "Days post injection", "titleX": 171, "titleY": 45, "titleFontSize": 17, "labelFontSize": 16}},
                "y": {"field": "t", "type": "quantitative", "scale": {"domain": [35, 38], "nice": false, "zero": false}, "axis": {"values": [35, 36, 37, 38], "tickCount": 20, "format": "d", "labelOverlap": false, "title": "Temperature (°C)", "titleX": -79, "titleY": 88, "titleFontSize": 18.9, "labelFontSize": 16}},
                "color": {"field": "s", "type": "nominal", "scale": {"domain": ["Control: Saline", "Control: Poly(IC)", "MIA: Saline", "MIA: Poly(IC)"], "range": ["#000000", "#ff2412", "#9226a6", "#ff9a20"]}, "legend": null}
              },
              "layer": [
                {"mark": {"type": "line", "strokeWidth": 2.5}},
                {"mark": {"type": "errorbar", "thickness": 2, "ticks": {"size": 10, "thickness": 2}}, "encoding": {"yError": {"field": "e"}}},
                {"mark": {"type": "point", "filled": true, "size": 80, "opacity": 1}, "encoding": {"shape": {"field": "s", "type": "nominal", "scale": {"domain": ["Control: Saline", "Control: Poly(IC)", "MIA: Saline", "MIA: Poly(IC)"], "range": ["circle", "square", "circle", "square"]}, "legend": null}}}
              ]
            },
            {"mark": {"type": "rule", "color": "#000000", "strokeWidth": 2.5}, "encoding": {"x": {"datum": 3.034}, "x2": {"datum": 3.886}, "y": {"datum": 38.016}}},
            {"mark": {"type": "point", "shape": "circle", "filled": true, "color": "#000000", "size": 80, "opacity": 1}, "encoding": {"x": {"datum": 3.46}, "y": {"datum": 38.016}}},
            {"mark": {"type": "text", "text": "Control: Saline", "fontSize": 13, "align": "left", "baseline": "middle"}, "encoding": {"x": {"datum": 4.258}, "y": {"datum": 38.016}}},
            {"mark": {"type": "rule", "color": "#ff2412", "strokeWidth": 2.5}, "encoding": {"x": {"datum": 10.22}, "x2": {"datum": 11.07}, "y": {"datum": 38.016}}},
            {"mark": {"type": "point", "shape": "square", "filled": true, "color": "#ff2412", "size": 80, "opacity": 1}, "encoding": {"x": {"datum": 10.65}, "y": {"datum": 38.016}}},
            {"mark": {"type": "text", "text": "Control: Poly(IC)", "fontSize": 13, "align": "left", "baseline": "middle"}, "encoding": {"x": {"datum": 11.55}, "y": {"datum": 38.016}}},
            {"mark": {"type": "rule", "color": "#9226a6", "strokeWidth": 2.5}, "encoding": {"x": {"datum": 3.034}, "x2": {"datum": 3.886}, "y": {"datum": 37.67}}},
            {"mark": {"type": "point", "shape": "circle", "filled": true, "color": "#9226a6", "size": 80, "opacity": 1}, "encoding": {"x": {"datum": 3.46}, "y": {"datum": 37.67}}},
            {"mark": {"type": "text", "text": "MIA: Saline", "fontSize": 13, "align": "left", "baseline": "middle"}, "encoding": {"x": {"datum": 4.258}, "y": {"datum": 37.67}}},
            {"mark": {"type": "rule", "color": "#ff9a20", "strokeWidth": 2.5}, "encoding": {"x": {"datum": 10.22}, "x2": {"datum": 11.07}, "y": {"datum": 37.67}}},
            {"mark": {"type": "point", "shape": "square", "filled": true, "color": "#ff9a20", "size": 80, "opacity": 1}, "encoding": {"x": {"datum": 10.65}, "y": {"datum": 37.67}}},
            {"mark": {"type": "text", "text": "MIA: Poly(IC)", "fontSize": 13, "align": "left", "baseline": "middle"}, "encoding": {"x": {"datum": 11.55}, "y": {"datum": 37.67}}},
            {"mark": {"type": "rule", "color": "#000000", "strokeWidth": 2.5, "strokeCap": "square"}, "encoding": {"x": {"datum": 15.0}, "y": {"datum": 35.48}, "y2": {"datum": 36.3}}},
            {"mark": {"type": "rule", "color": "#000000", "strokeWidth": 2.5, "strokeCap": "square"}, "encoding": {"x": {"datum": 14.55}, "x2": {"datum": 15.0}, "y": {"datum": 36.3}}},
            {"mark": {"type": "rule", "color": "#000000", "strokeWidth": 2.5, "strokeCap": "square"}, "encoding": {"x": {"datum": 14.55}, "x2": {"datum": 15.0}, "y": {"datum": 35.48}}},
            {"mark": {"type": "text", "text": "0.8°C", "fontSize": 15, "fontWeight": "bold", "align": "center", "baseline": "middle"}, "encoding": {"x": {"datum": 15.1}, "y": {"datum": 36.66}}},
            {"mark": {"type": "rule", "color": "#000000", "strokeWidth": 2.5, "strokeCap": "square"}, "encoding": {"x": {"datum": -1.42}, "y": {"datum": 35.73}, "y2": {"datum": 36.33}}},
            {"mark": {"type": "rule", "color": "#000000", "strokeWidth": 2.5, "strokeCap": "square"}, "encoding": {"x": {"datum": -1.42}, "x2": {"datum": -0.45}, "y": {"datum": 36.33}}},
            {"mark": {"type": "rule", "color": "#000000", "strokeWidth": 2.5, "strokeCap": "square"}, "encoding": {"x": {"datum": -1.42}, "x2": {"datum": -0.45}, "y": {"datum": 35.73}}},
            {"mark": {"type": "text", "text": "0.5°C", "fontSize": 15, "fontWeight": "bold", "align": "right", "baseline": "middle"}, "encoding": {"x": {"datum": -1.7}, "y": {"datum": 36.0}}},
            {"mark": {"type": "text", "text": "E", "fontSize": 32, "align": "left", "baseline": "alphabetic"}, "encoding": {"x": {"datum": -5.3}, "y": {"datum": 38.363}}}
          ]
        },
        {
          "width": 41, "height": 182,
          "data": {"values": [{}]},
          "layer": [
            {
              "data": {"name": "E2"},
              "encoding": {
                "x": {"field": "x", "type": "quantitative", "scale": {"domain": [16, 28], "nice": false}, "axis": {"values": [16, 28], "tickCount": 20, "format": "d", "labelOverlap": false, "title": null, "labelFontSize": 16}},
                "y": {"field": "t", "type": "quantitative", "scale": {"domain": [35, 38], "nice": false, "zero": false}, "axis": null},
                "color": {"field": "s", "type": "nominal", "scale": {"domain": ["Control: Saline", "Control: Poly(IC)", "MIA: Saline", "MIA: Poly(IC)"], "range": ["#000000", "#ff2412", "#9226a6", "#ff9a20"]}, "legend": null}
              },
              "layer": [
                {"mark": {"type": "line", "strokeWidth": 2.5}},
                {"transform": [{"filter": {"field": "x", "equal": 28}}], "mark": {"type": "errorbar", "thickness": 2, "ticks": {"size": 10, "thickness": 2}}, "encoding": {"yError": {"field": "e"}}},
                {"transform": [{"filter": {"field": "x", "equal": 28}}], "mark": {"type": "point", "filled": true, "size": 80, "opacity": 1}, "encoding": {"shape": {"field": "s", "type": "nominal", "scale": {"domain": ["Control: Saline", "Control: Poly(IC)", "MIA: Saline", "MIA: Poly(IC)"], "range": ["circle", "square", "circle", "square"]}, "legend": null}}}
              ]
            },
            {"mark": {"type": "rule", "color": "#000000", "strokeWidth": 2.5, "strokeCap": "square"}, "encoding": {"x": {"datum": 33.0}, "y": {"datum": 35.69}, "y2": {"datum": 36.22}}},
            {"mark": {"type": "rule", "color": "#000000", "strokeWidth": 2.5, "strokeCap": "square"}, "encoding": {"x": {"datum": 31.0}, "x2": {"datum": 33.0}, "y": {"datum": 36.22}}},
            {"mark": {"type": "rule", "color": "#000000", "strokeWidth": 2.5, "strokeCap": "square"}, "encoding": {"x": {"datum": 31.0}, "x2": {"datum": 33.0}, "y": {"datum": 35.69}}},
            {"mark": {"type": "text", "text": "0.5°C", "fontSize": 15, "fontWeight": "bold", "align": "center", "baseline": "middle"}, "encoding": {"x": {"datum": 31.8}, "y": {"datum": 36.66}}}
          ]
        }
      ],
      "spacing": 36,
      "bounds": "flush",
      "resolve": {"scale": {"color": "independent", "shape": "independent"}}
    }
  ]
}
